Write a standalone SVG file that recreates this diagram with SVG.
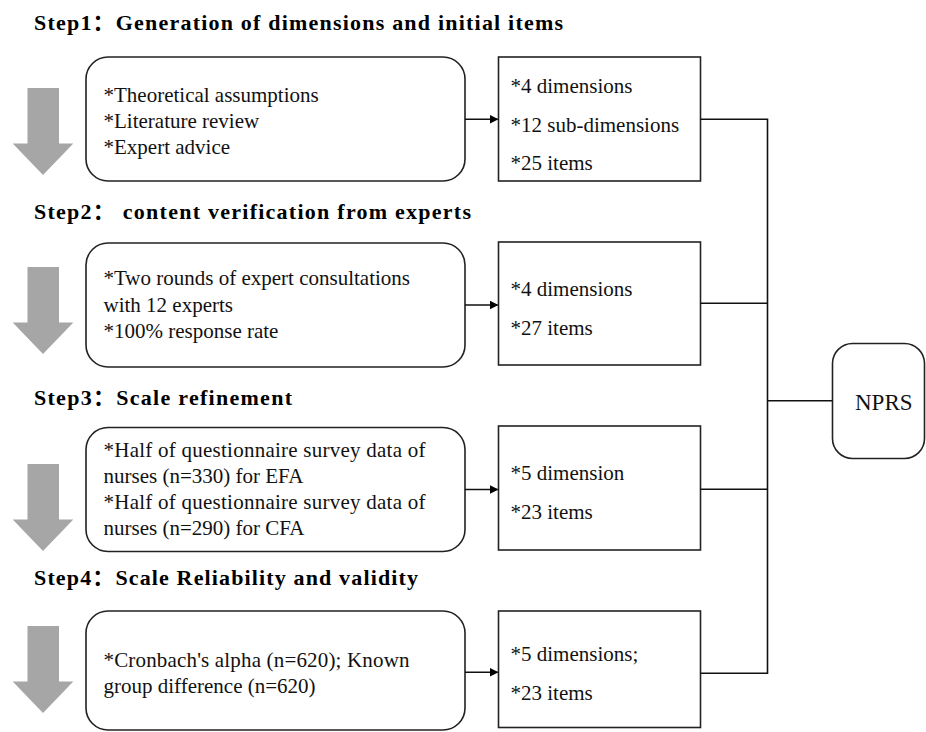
<svg xmlns="http://www.w3.org/2000/svg" width="926" height="732" viewBox="0 0 926 732">
<style>
.title{font-family:"Liberation Serif","Times New Roman","DejaVu Serif",serif;font-weight:bold;font-size:22px;fill:#000}
.cjk{font-family:"Noto Sans CJK SC",sans-serif}
.t{font-family:"Liberation Serif","Times New Roman","DejaVu Serif",serif;font-size:21px;fill:#111}
.box{fill:#fff;stroke:#222;stroke-width:1.6}
.garrow{fill:#a6a6a6}
.conn{fill:none;stroke:#111;stroke-width:1.6}
</style>
<defs>
<marker id="ah" markerWidth="9" markerHeight="9" refX="8" refY="4.5" orient="auto" markerUnits="userSpaceOnUse">
<path d="M0,0 L9,4.5 L0,9 Z" fill="#000"/>
</marker>
<path id="ga" d="M27.5,0 H59 V55.5 H73.3 L43,87 L12.7,55.5 H27.5 Z"/>
</defs>
<rect width="926" height="732" fill="#fff"/>

<g id="titles">
<text class="title" x="34" y="30" textLength="529" lengthAdjust="spacing">Step1<tspan class="cjk">：</tspan>Generation of dimensions and initial items</text>
<text class="title" x="34" y="219" textLength="437" lengthAdjust="spacing">Step2<tspan class="cjk">：</tspan>  content verification from experts</text>
<text class="title" x="34" y="405" textLength="258" lengthAdjust="spacing">Step3<tspan class="cjk">：</tspan>Scale refinement</text>
<text class="title" x="34" y="585" textLength="384" lengthAdjust="spacing">Step4<tspan class="cjk">：</tspan>Scale Reliability and validity</text>
</g>

<g id="gray-arrows" class="garrow">
<use href="#ga" x="0" y="88"/>
<use href="#ga" x="0" y="267"/>
<use href="#ga" x="0" y="464"/>
<use href="#ga" x="0" y="626"/>
</g>

<g id="s1-input">
<rect class="box" x="86" y="57" width="379" height="124" rx="22"/>
<text class="t" x="103.5" y="102">*Theoretical assumptions</text>
<text class="t" x="103.5" y="128">*Literature review</text>
<text class="t" x="103.5" y="154">*Expert advice</text>
</g>
<g id="s1-output">
<rect class="box" x="498.5" y="57" width="202" height="124"/>
<text class="t" x="510.5" y="93">*4 dimensions</text>
<text class="t" x="510.5" y="132">*12 sub-dimensions</text>
<text class="t" x="510.5" y="170">*25 items</text>
</g>

<g id="s2-input">
<rect class="box" x="86" y="243" width="379" height="124" rx="22"/>
<text class="t" x="103.5" y="285">*Two rounds of expert consultations</text>
<text class="t" x="103.5" y="312">with 12 experts</text>
<text class="t" x="103.5" y="338">*100% response rate</text>
</g>
<g id="s2-output">
<rect class="box" x="498.5" y="242" width="202" height="123"/>
<text class="t" x="510.5" y="296">*4 dimensions</text>
<text class="t" x="510.5" y="335">*27 items</text>
</g>

<g id="s3-input">
<rect class="box" x="86" y="427.5" width="379" height="124" rx="22"/>
<text class="t" x="103.5" y="457" textLength="322" lengthAdjust="spacing">*Half of questionnaire survey data of</text>
<text class="t" x="103.5" y="483">nurses (n=330) for EFA</text>
<text class="t" x="103.5" y="508.5" textLength="322" lengthAdjust="spacing">*Half of questionnaire survey data of</text>
<text class="t" x="103.5" y="535">nurses (n=290) for CFA</text>
</g>
<g id="s3-output">
<rect class="box" x="498.5" y="426" width="202" height="124"/>
<text class="t" x="510.5" y="480">*5 dimension</text>
<text class="t" x="510.5" y="519">*23 items</text>
</g>

<g id="s4-input">
<rect class="box" x="86" y="611" width="379" height="119" rx="22"/>
<text class="t" x="103.5" y="667" textLength="306" lengthAdjust="spacing">*Cronbach's alpha (n=620); Known</text>
<text class="t" x="103.5" y="693">group difference (n=620)</text>
</g>
<g id="s4-output">
<rect class="box" x="498.5" y="611" width="202" height="116.5"/>
<text class="t" x="510.5" y="661">*5 dimensions;</text>
<text class="t" x="510.5" y="700">*23 items</text>
</g>

<g id="nprs">
<rect class="box" x="832.5" y="343.5" width="92" height="115" rx="20"/>
<text class="t" x="855" y="410" style="font-size:23px">NPRS</text>
</g>

<g id="connectors" class="conn">
<line x1="465" y1="119.3" x2="497.5" y2="119.3" marker-end="url(#ah)"/>
<line x1="465" y1="305" x2="497.5" y2="305" marker-end="url(#ah)"/>
<line x1="465" y1="489.5" x2="497.5" y2="489.5" marker-end="url(#ah)"/>
<line x1="465" y1="672.3" x2="497.5" y2="672.3" marker-end="url(#ah)"/>
<polyline points="700.5,119.3 767.5,119.3 767.5,673.3 700.5,673.3"/>
<line x1="700.5" y1="303.3" x2="767.5" y2="303.3"/>
<line x1="700.5" y1="489.3" x2="767.5" y2="489.3"/>
<line x1="767.5" y1="400.7" x2="832.5" y2="400.7"/>
</g>
</svg>
